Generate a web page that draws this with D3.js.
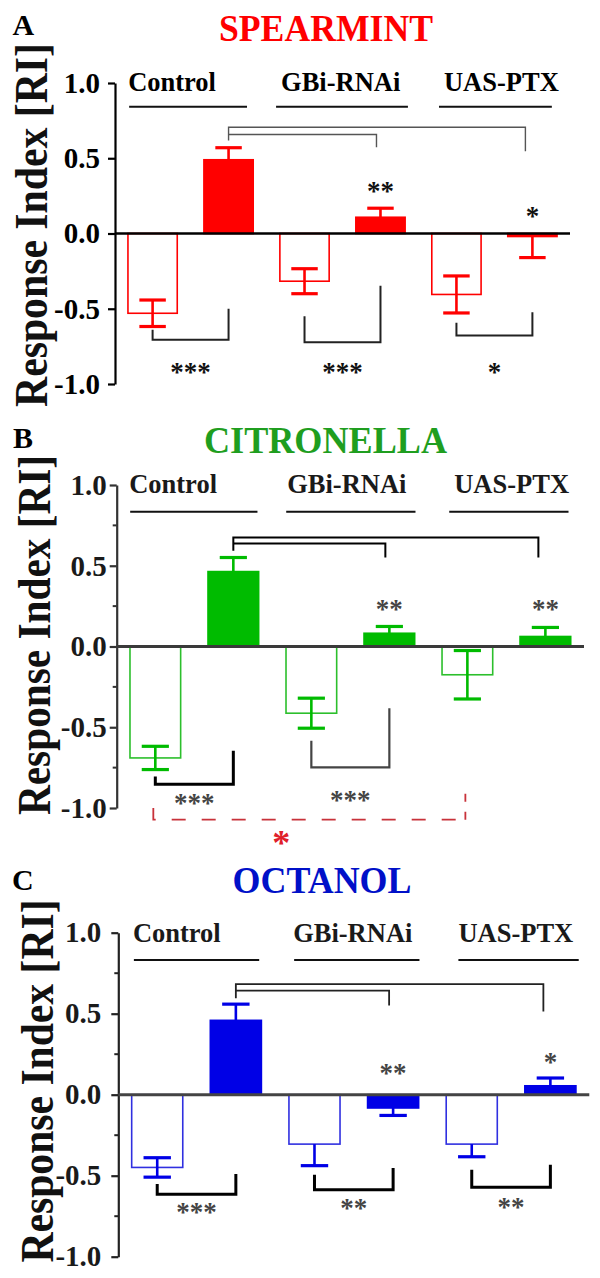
<!DOCTYPE html>
<html><head><meta charset="utf-8">
<script src="https://cdn.jsdelivr.net/npm/d3@7"></script>
<style>
body{margin:0;background:#fff}
svg{display:block}
svg text{font-family:"Liberation Serif","Times New Roman",Times,serif !important;}
</style>
</head><body>
<script>
// ---------- data ----------
const groups = ["Control", "GBi-RNAi", "UAS-PTX"];
const barKeys = ["Control-", "Control+", "GBi-", "GBi+", "UAS-", "UAS+"];
const barFilled = [false, true, false, true, false, true];
const yTickValues = [1.0, 0.5, 0.0, -0.5, -1.0];
const yTickLabels = ["1.0", "0.5", "0.0", "-0.5", "-1.0"];
const minorTickValues = [0.75, 0.25, -0.25, -0.75];
const yTitle = "Response Index [RI]";

// A: spearmint
const spearmintMean = [-0.53, 0.49, -0.317, 0.108, -0.405, -0.02];
const spearmintSE = [0.088, 0.08, 0.083, 0.06, 0.123, 0.14];
const spearmintErrBoth = [true, false, true, false, true, false];
const spearmintTopBracket = [0.706, 0.658, 0.618, 0.573, 0.547];
const spearmintTopStars = ["**", "*"];
const spearmintTopStarY = [0.306, 0.142];
const spearmintPairBrackets = [[-0.64, -0.706, -0.50], [-0.55, -0.722, -0.347], [-0.593, -0.678, -0.523]];
const spearmintPairStars = ["***", "***", "*"];
const spearmintPairStarY = [-0.894, -0.894, -0.894];

// B: citronella
const citronellaMean = [-0.69, 0.464, -0.413, 0.082, -0.175, 0.062];
const citronellaSE = [0.072, 0.087, 0.093, 0.042, 0.15, 0.056];
const citronellaErrBoth = [true, false, true, false, true, false];
const citronellaTopBracket = [0.675, 0.638, 0.593, 0.551, 0.551];
const citronellaTopStars = ["**", "**"];
const citronellaTopStarY = [0.26, 0.26];
const citronellaPairBrackets = [[-0.805, -0.853, -0.646], [-0.584, -0.749, -0.382]];
const citronellaPairStars = ["***", "***"];
const citronellaPairStarY = [-0.947, -0.923];
const citronellaCrossBracket = [-1.0, -1.072, -0.873];
const citronellaCrossStar = "*";
const citronellaCrossStarY = -1.183;

// C: octanol
const octanolMean = [-0.449, 0.459, -0.305, -0.082, -0.305, 0.055];
const octanolSE = [0.06, 0.1, 0.133, 0.046, 0.078, 0.048];
const octanolErrBoth = [true, false, false, false, false, false];
const octanolTopBracket = [0.683, 0.642, 0.596, 0.551, 0.514];
const octanolTopStars = ["**", "*"];
const octanolTopStarY = [0.156, 0.226];
const octanolPairBrackets = [[-0.552, -0.614, -0.49], [-0.494, -0.586, -0.453], [-0.463, -0.572, -0.432]];
const octanolPairStars = ["***", "**", "**"];
const octanolPairStarY = [-0.70, -0.677, -0.669];

// ---------- drawing ----------
const FONT = "Liberation Serif, Times New Roman, serif";
const W = 600, H = 1278;
const svg = d3.select("body").append("svg").attr("width", W).attr("height", H)
  .attr("font-family", FONT);

function drawPanel(p) {
  const x = d3.scaleBand().domain(barKeys).range([p.x0, p.x1]).paddingInner(0.33).paddingOuter(0.16);
  const y = d3.scaleLinear().domain([-1, 1]).range([p.yB, p.yT]);
  const bw = x.bandwidth();
  const cx = i => x(barKeys[i]) + bw / 2;
  const g = svg.append("g").attr("font-family", FONT);

  // panel letter & title
  g.append("text").attr("x", p.letterX).attr("y", p.letterY).text(p.letter)
    .attr("font-size", 30).attr("font-weight", "bold").attr("fill", "#000");
  g.append("text").attr("x", p.titleX).attr("y", p.titleY).text(p.title)
    .attr("text-anchor", "middle").attr("font-size", 37).attr("font-weight", "bold")
    .attr("fill", p.titleColor).attr("textLength", p.titleLen).attr("lengthAdjust", "spacingAndGlyphs");

  // y title
  g.append("text").attr("transform", `translate(${p.yTitleX},${p.yTitleY}) rotate(-90)`)
    .attr("text-anchor", "middle").attr("font-size", 46).attr("font-weight", "bold")
    .attr("fill", "#111").attr("textLength", p.yTitleLen).attr("lengthAdjust", "spacingAndGlyphs")
    .text(yTitle);

  // axis
  const axis = d3.axisLeft(y).tickValues(yTickValues)
    .tickFormat((d, i) => yTickLabels[i]).tickSize(7).tickSizeOuter(0).tickPadding(p.tickPad);
  const ax = g.append("g").attr("transform", `translate(${p.x0},0)`).call(axis)
    .attr("font-family", FONT);
  ax.select(".domain").attr("stroke", p.axisColor).attr("stroke-width", 2.2);
  ax.selectAll(".tick line").attr("stroke", p.axisColor).attr("stroke-width", 2.2);
  ax.selectAll(".tick text").attr("font-family", FONT).attr("font-size", 29)
    .attr("font-weight", "bold").attr("fill", p.textColor);
  if (p.minor) {
    g.append("g").selectAll("line").data(minorTickValues).join("line")
      .attr("x1", p.x0 - 4).attr("x2", p.x0).attr("y1", d => y(d)).attr("y2", d => y(d))
      .attr("stroke", p.axisColor).attr("stroke-width", 2);
  }

  // group labels and underlines
  groups.forEach((name, k) => {
    const xa = x(barKeys[2 * k]), xb = x(barKeys[2 * k + 1]) + bw;
    g.append("text").attr("x", xa + p.labelOff[k]).attr("y", p.labelY).text(name)
      .attr("font-size", 26.5).attr("font-weight", "bold").attr("fill", p.textColor);
    g.append("line").attr("x1", xa + p.lineOffL[k]).attr("x2", xb + p.lineOffR[k])
      .attr("y1", p.lineY).attr("y2", p.lineY).attr("stroke", "#111").attr("stroke-width", 2);
  });

  // bars
  g.append("g").selectAll("rect").data(p.mean).join("rect")
    .attr("x", (d, i) => x(barKeys[i]) + 0.8).attr("width", bw - 1.6)
    .attr("y", d => Math.min(y(d), y(0))).attr("height", d => Math.abs(y(d) - y(0)))
    .attr("fill", (d, i) => barFilled[i] ? p.fill : "none")
    .attr("stroke", (d, i) => barFilled[i] ? p.fill : p.stroke).attr("stroke-width", 1.6);

  // error bars
  const eg = g.append("g").attr("stroke", p.fill);
  p.mean.forEach((m, i) => {
    const s = p.se[i], c = cx(i), half = bw * 0.26;
    const sign = m >= 0 ? 1 : -1;
    const ends = p.errBoth[i] ? [m - s, m + s] : [m + sign * s];
    const lo = p.errBoth[i] ? m - s : m;
    const hi = p.errBoth[i] ? m + s : m + sign * s;
    eg.append("line").attr("x1", c).attr("x2", c).attr("y1", y(lo)).attr("y2", y(hi)).attr("stroke-width", 2.6);
    ends.forEach(v => eg.append("line").attr("x1", c - half).attr("x2", c + half)
      .attr("y1", y(v)).attr("y2", y(v)).attr("stroke-width", 3.2));
  });

  // zero line
  g.append("line").attr("x1", p.x0).attr("x2", p.x1).attr("y1", y(0)).attr("y2", y(0))
    .attr("stroke", p.zeroColor).attr("stroke-width", p.zeroWidth);

  // top bracket (filled control vs filled GBi / UAS)
  const tb = p.topBracket, xs = cx(1), xi = cx(3) - 4, xo = cx(5) - 7;
  g.append("path").attr("fill", "none").attr("stroke", p.topColor).attr("stroke-width", p.topWidth)
    .attr("d", `M${xs},${y(tb[2])}V${y(tb[0])}H${xo}V${y(tb[4])}M${xs},${y(tb[1])}H${xi}V${y(tb[3])}`);
  const starIdx = [3, 5];
  p.topStars.forEach((t, k) => {
    g.append("text").attr("x", cx(starIdx[k])).attr("y", y(p.topStarY[k]) + 13).text(t)
      .attr("text-anchor", "middle").attr("font-size", 27).attr("font-weight", "bold").attr("fill", p.starColor);
  });

  // pair brackets (open vs filled within group)
  p.pairBrackets.forEach((b, k) => {
    const xl = cx(2 * k), xr = cx(2 * k + 1);
    g.append("path").attr("fill", "none").attr("stroke", p.pairColor[k]).attr("stroke-width", p.pairWidth[k])
      .attr("d", `M${xl},${y(b[0])}V${y(b[1])}H${xr}V${y(b[2])}`);
    g.append("text").attr("x", (xl + xr) / 2).attr("y", y(p.pairStarY[k]) + 13).text(p.pairStars[k])
      .attr("text-anchor", "middle").attr("font-size", 27).attr("font-weight", "bold").attr("fill", p.starColor);
  });

  if (p.cross) {
    const b = p.cross, xl = cx(0) - 2, xr = cx(4) - 2;
    g.append("path").attr("fill", "none").attr("stroke", "#c8323a").attr("stroke-width", 1.8)
      .attr("stroke-dasharray", "14,16")
      .attr("d", `M${xl},${y(b[0])}V${y(b[1])}H${xr}`);
    g.append("path").attr("fill", "none").attr("stroke", "#c8323a").attr("stroke-width", 1.8)
      .attr("stroke-dasharray", "8,10")
      .attr("d", `M${xr},${y(b[1])}V${y(b[2])}`);
    g.append("text").attr("x", (cx(0) + cx(4)) / 2 - 30).attr("y", y(p.crossStarY) + 17).text(p.crossStar)
      .attr("text-anchor", "middle").attr("font-size", 36).attr("font-weight", "bold").attr("fill", "#e0202a");
  }
}

drawPanel({
  letter: "A", letterX: 12.5, letterY: 35,
  title: "SPEARMINT", titleX: 326, titleY: 40.7, titleLen: 214, titleColor: "#ff0000",
  yTitleX: 47, yTitleY: 225, yTitleLen: 364,
  x0: 115, x1: 570, yB: 384, yT: 83, tickPad: 8, minor: false,
  axisColor: "#000", textColor: "#000", zeroColor: "#000", zeroWidth: 2.4,
  labelY: 90.7, labelOff: [1, 2, 13], lineY: 106.7, lineOffL: [2, -3, 8], lineOffR: [-7, 2, -6],
  fill: "#ff0000", stroke: "#ff0000",
  mean: spearmintMean, se: spearmintSE, errBoth: spearmintErrBoth,
  topBracket: spearmintTopBracket, topColor: "#555", topWidth: 1.4,
  topStars: spearmintTopStars, topStarY: spearmintTopStarY, starColor: "#111",
  pairBrackets: spearmintPairBrackets, pairColor: ["#222", "#222", "#222"], pairWidth: [2, 2, 2],
  pairStars: spearmintPairStars, pairStarY: spearmintPairStarY
});

drawPanel({
  letter: "B", letterX: 13, letterY: 448,
  title: "CITRONELLA", titleX: 325.5, titleY: 453, titleLen: 243, titleColor: "#1f9e1f",
  yTitleX: 50, yTitleY: 635, yTitleLen: 360,
  x0: 116.7, x1: 584, yB: 808, yT: 485, tickPad: 3, minor: true,
  axisColor: "#333", textColor: "#1a1a1a", zeroColor: "#3a3a3a", zeroWidth: 3,
  labelY: 493, labelOff: [0, 2, 13], lineY: 511.7, lineOffL: [1, 1, 8], lineOffR: [-2, 0, -3],
  fill: "#00bb00", stroke: "#2cbf2c",
  mean: citronellaMean, se: citronellaSE, errBoth: citronellaErrBoth,
  topBracket: citronellaTopBracket, topColor: "#000", topWidth: 2,
  topStars: citronellaTopStars, topStarY: citronellaTopStarY, starColor: "#444",
  pairBrackets: citronellaPairBrackets, pairColor: ["#000", "#444"], pairWidth: [3, 2.2],
  pairStars: citronellaPairStars, pairStarY: citronellaPairStarY,
  cross: citronellaCrossBracket, crossStar: citronellaCrossStar, crossStarY: citronellaCrossStarY
});

drawPanel({
  letter: "C", letterX: 12, letterY: 890,
  title: "OCTANOL", titleX: 322, titleY: 893, titleLen: 179, titleColor: "#0010c8",
  yTitleX: 53, yTitleY: 1081, yTitleLen: 363,
  x0: 118.3, x1: 589.3, yB: 1256.7, yT: 932.7, tickPad: 10, minor: true,
  axisColor: "#222", textColor: "#1a1a1a", zeroColor: "#444", zeroWidth: 3,
  labelY: 941.7, labelOff: [2, 5, 13], lineY: 960, lineOffL: [3, 6, 13], lineOffR: [-3, 0, 2],
  fill: "#0000e6", stroke: "#3030e0",
  mean: octanolMean, se: octanolSE, errBoth: octanolErrBoth,
  topBracket: octanolTopBracket, topColor: "#222", topWidth: 1.8,
  topStars: octanolTopStars, topStarY: octanolTopStarY, starColor: "#444",
  pairBrackets: octanolPairBrackets, pairColor: ["#000", "#000", "#000"], pairWidth: [3, 3, 3],
  pairStars: octanolPairStars, pairStarY: octanolPairStarY
});
</script>
</body></html>
